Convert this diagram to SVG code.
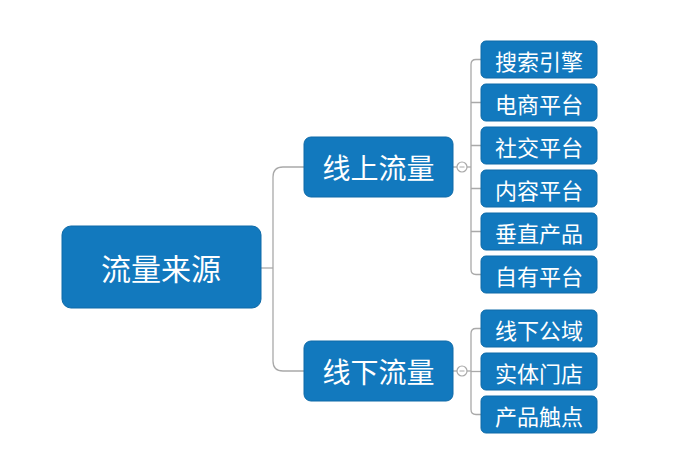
<svg xmlns="http://www.w3.org/2000/svg" width="700" height="470" viewBox="0 0 700 470">
<style>
.box{fill:#1279be;stroke:#0e6aa8;stroke-width:1}
.t{fill:#ffffff;font-family:"Noto Sans CJK SC","Noto Sans CJK JP",sans-serif;text-anchor:middle;dominant-baseline:central}
.root{font-size:30px}
.mid{font-size:28px}
.leaf{font-size:22px}
.ln{fill:none;stroke:#a9a9a9;stroke-width:1.3}
.cc{fill:#ffffff;stroke:#a9a9a9;stroke-width:1.2}
</style>
<rect width="700" height="470" fill="#ffffff"/>
<g id="connectors">
<path class="ln" d="M261 268 H273"/>
<path class="ln" d="M304 167 H283 Q273 167 273 177 V361 Q273 371 283 371 H304"/>
<path class="ln" d="M453 167 H471"/>
<path class="ln" d="M481 59.5 H476 Q471 59.5 471 64.5 V269.5 Q471 274.5 476 274.5 H481"/>
<path class="ln" d="M471 102.5 H481 M471 145.5 H481 M471 188.5 H481 M471 231.5 H481"/>
<path class="ln" d="M453 371 H471"/>
<path class="ln" d="M481 328.5 H476 Q471 328.5 471 333.5 V409.5 Q471 414.5 476 414.5 H481"/>
<path class="ln" d="M471 371.5 H481"/>
<circle class="cc" cx="462" cy="167" r="5"/>
<line x1="459.5" y1="167" x2="464.5" y2="167" stroke="#a9a9a9" stroke-width="1"/>
<circle class="cc" cx="462" cy="371" r="5"/>
<line x1="459.5" y1="371" x2="464.5" y2="371" stroke="#a9a9a9" stroke-width="1"/>
</g>
<g id="root"><rect class="box" x="62" y="226" width="199" height="82" rx="9"/><text class="t root" x="161" y="267">流量来源</text></g>
<g id="online"><rect class="box" x="304" y="137" width="149" height="60" rx="7"/><text class="t mid" x="378.5" y="167">线上流量</text></g>
<g id="offline"><rect class="box" x="304" y="341" width="149" height="60" rx="7"/><text class="t mid" x="378.5" y="371">线下流量</text></g>
<g id="leaf1"><rect class="box" x="481" y="41" width="116" height="37" rx="5"/><text class="t leaf" x="539" y="59.5">搜索引擎</text></g>
<g id="leaf2"><rect class="box" x="481" y="84" width="116" height="37" rx="5"/><text class="t leaf" x="539" y="102.5">电商平台</text></g>
<g id="leaf3"><rect class="box" x="481" y="127" width="116" height="37" rx="5"/><text class="t leaf" x="539" y="145.5">社交平台</text></g>
<g id="leaf4"><rect class="box" x="481" y="170" width="116" height="37" rx="5"/><text class="t leaf" x="539" y="188.5">内容平台</text></g>
<g id="leaf5"><rect class="box" x="481" y="213" width="116" height="37" rx="5"/><text class="t leaf" x="539" y="231.5">垂直产品</text></g>
<g id="leaf6"><rect class="box" x="481" y="256" width="116" height="37" rx="5"/><text class="t leaf" x="539" y="274.5">自有平台</text></g>
<g id="leaf7"><rect class="box" x="481" y="310" width="116" height="37" rx="5"/><text class="t leaf" x="539" y="328.5">线下公域</text></g>
<g id="leaf8"><rect class="box" x="481" y="353" width="116" height="37" rx="5"/><text class="t leaf" x="539" y="371.5">实体门店</text></g>
<g id="leaf9"><rect class="box" x="481" y="396" width="116" height="37" rx="5"/><text class="t leaf" x="539" y="414.5">产品触点</text></g>
</svg>
